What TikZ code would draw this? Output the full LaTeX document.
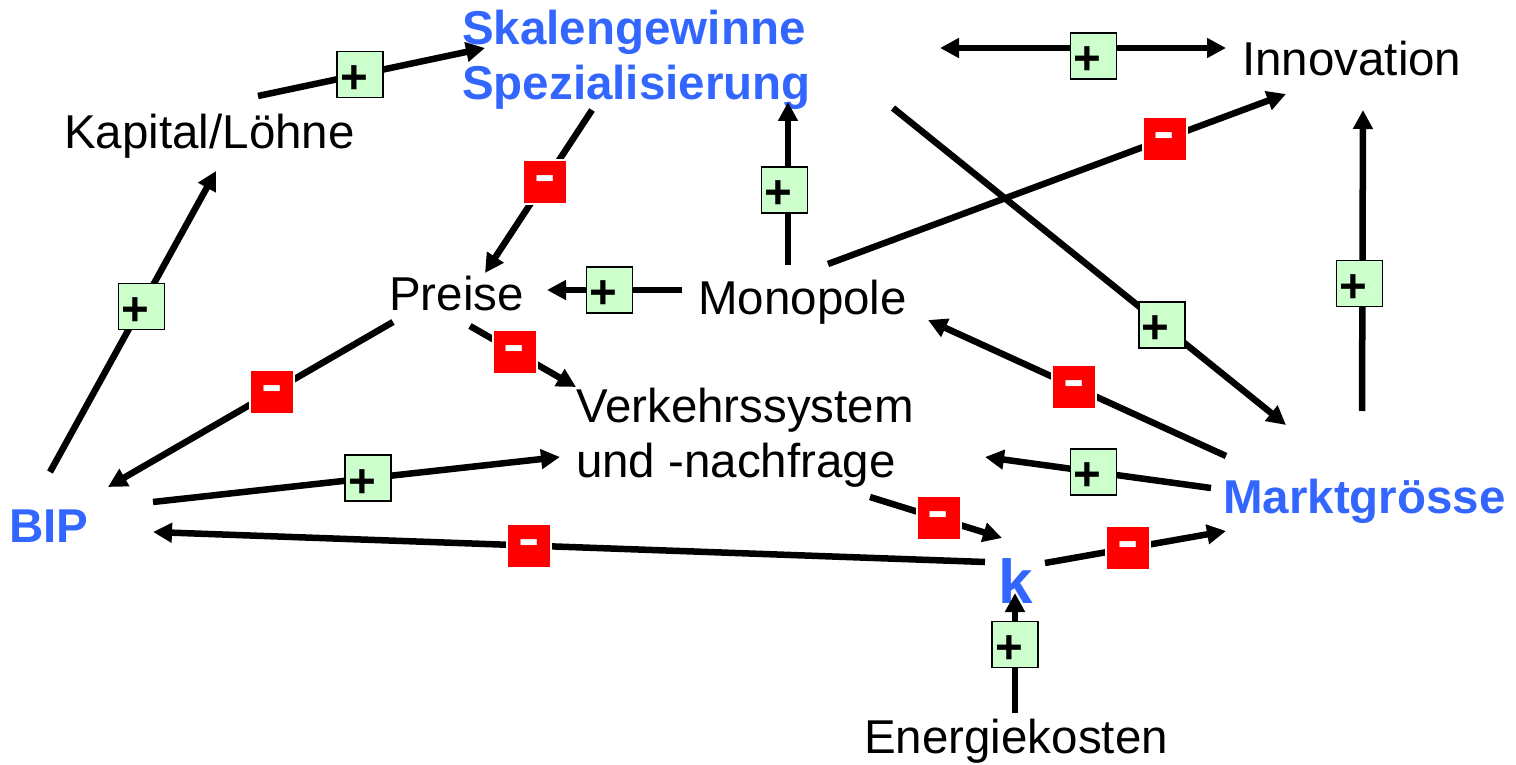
\documentclass[tikz,border=0pt]{standalone}
\usepackage{fontspec}
\usepackage{graphicx}
\setmainfont{Liberation Sans}
\usetikzlibrary{arrows.meta}
\definecolor{tblue}{RGB}{51,102,255}
\definecolor{pgreen}{RGB}{204,255,204}
\begin{document}
\begin{tikzpicture}[x=1pt,y=-1pt,
  txt/.style={inner sep=0pt, font=\fontsize{47.5}{55}\selectfont, text=black},
  keytxt/.style={inner sep=0pt, font=\fontsize{47.5}{55}\selectfont\bfseries, text=tblue},
  arr/.style={line width=6.5pt, -{Triangle[length=19pt,width=19pt]}},
  darr/.style={line width=6.5pt, {Triangle[length=19pt,width=19pt]}-{Triangle[length=19pt,width=19pt]}},
  plus/.style={draw=black, line width=1.5pt, fill=pgreen, minimum width=46pt, minimum height=46pt, inner sep=0pt, text=black, font=\fontsize{47.5}{47.5}\selectfont\bfseries},
  minus/.style={draw=white, line width=2pt, fill=red, minimum width=44pt, minimum height=44pt, inner sep=0pt, text=white, font=\fontsize{47.5}{47.5}\selectfont\bfseries}
]
\useasboundingbox (0,0) rectangle (1516,765);
\newcommand{\pl}{\hspace*{-12pt}\raisebox{-5pt}[\height][0pt]{+}}
\newcommand{\mi}{\raisebox{-1.5pt}[\height][0pt]{\scalebox{1.35}[1.05]{-}}}
% nodes
\node[keytxt, align=left] (skal) at (636.5,60) {Skalengewinne\\Spezialisierung};
\node[txt, anchor=base west] (inno) at (1242,76) {Innovation};
\node[txt, anchor=base west] (kap) at (64,149) {Kapital/Löhne};
\node[txt, anchor=base west] (preise) at (389,310) {Preise};
\node[txt, anchor=base west] (mono) at (698,314) {Monopole};
\node[txt, align=left] (verk) at (745,438) {Verkehrssystem\\und -nachfrage};
\node[keytxt, anchor=base west] (bip) at (9,542) {BIP};
\node[keytxt, anchor=base west, font=\fontsize{62}{62}\selectfont\bfseries] (k) at (998,603) {k};
\node[keytxt, anchor=base west] (markt) at (1223,513) {Marktgrösse};
\node[txt, anchor=base west] (energie) at (864,753) {Energiekosten};
% connectors
\draw[arr] ([shift={(194,-53)}]kap.base west) -- node[plus, pos=0.45]{\pl} ([shift={(-151.5,-12)}]skal.center);
\draw[arr] ([shift={(-44.5,50)}]skal.center) -- node[minus, pos=0.44]{\mi} ([shift={(96,-37)}]preise.base west);
\draw[arr] ([shift={(90,-49)}]mono.base west) -- node[plus, pos=0.46, xshift=-3.5pt]{\pl} ([shift={(151.5,42)}]skal.center);
\draw[darr] ([shift={(303.5,-12)}]skal.center) -- node[plus, pos=0.537, yshift=-8pt]{\pl} ([shift={(-16,-28)}]inno.base west);
\draw[arr] ([shift={(130,-50)}]mono.base west) -- node[minus, pos=0.735]{\mi} ([shift={(44,18)}]inno.base west);
\draw[arr] ([shift={(256.5,48)}]skal.center) -- node[plus, pos=0.684]{\pl} ([shift={(63,-88)}]markt.base west);
\draw[arr] ([shift={(139,-102)}]markt.base west) -- node[plus, pos=0.424, xshift=-3pt]{\pl} ([shift={(121,34)}]inno.base west);
\draw[arr] ([shift={(-16,-24)}]mono.base west) -- node[plus, pos=0.537]{\pl} ([shift={(158,-20)}]preise.base west);
\draw[arr] ([shift={(3,-57)}]markt.base west) -- node[minus, pos=0.51]{\mi} ([shift={(230,6)}]mono.base west);
\draw[arr] ([shift={(4,12)}]preise.base west) -- node[minus, pos=0.425]{\mi} ([shift={(99,-55)}]bip.base west);
\draw[arr] ([shift={(81,16)}]preise.base west) -- node[minus, pos=0.42]{\mi} ([shift={(-169,-51)}]verk.center);
\draw[arr] ([shift={(41,-70)}]bip.base west) -- node[plus, pos=0.55]{\pl} ([shift={(152,22)}]kap.base west);
\draw[arr] ([shift={(144,-40)}]bip.base west) -- node[plus, pos=0.528]{\pl} ([shift={(-185,19)}]verk.center);
\draw[arr] ([shift={(-12,-25)}]markt.base west) -- node[plus, pos=0.52]{\pl} ([shift={(240,19)}]verk.center);
\draw[arr] ([shift={(125,59)}]verk.center) -- node[minus, pos=0.52]{\mi} ([shift={(4,-65)}]k.base west);
\draw[arr] ([shift={(-13,-41)}]k.base west) -- node[minus, pos=0.548]{\mi} ([shift={(144,-10)}]bip.base west);
\draw[arr] ([shift={(47,-40)}]k.base west) -- node[minus, pos=0.46]{\mi} ([shift={(3,18)}]markt.base west);
\draw[arr] ([shift={(151,-40)}]energie.base west) -- node[plus, pos=0.57]{\pl} ([shift={(17,-10)}]k.base west);
\end{tikzpicture}
\end{document}
